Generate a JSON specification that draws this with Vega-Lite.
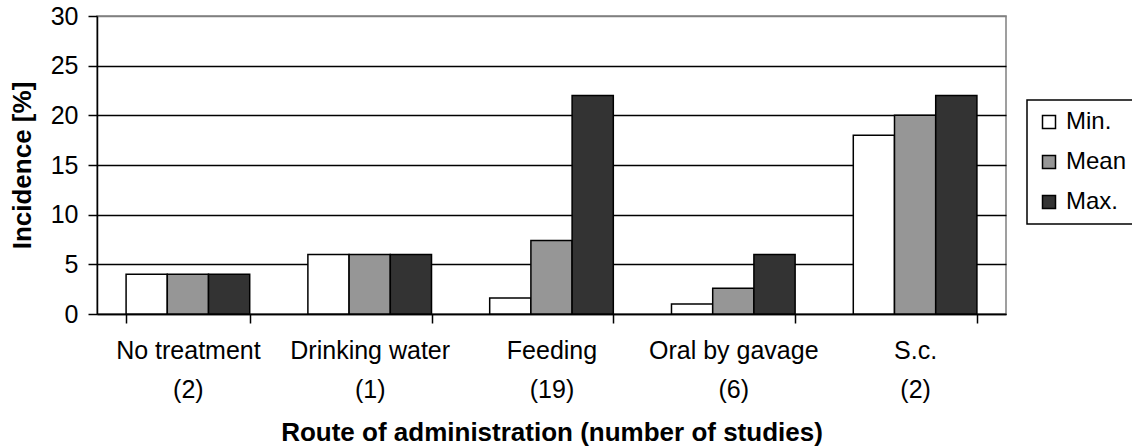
{
  "$schema": "https://vega.github.io/schema/vega-lite/v6.json",
  "width": 909,
  "height": 298,
  "autosize": {"type": "none"},
  "padding": {"left": 97, "top": 16, "right": 126, "bottom": 134},
  "background": "white",
  "config": {
    "view": {"stroke": "#808080", "strokeWidth": 1.5},
    "font": "Liberation Sans"
  },
  "data": {
    "values": [
      {"route": "No treatment|(2)", "stat": "Min.", "value": 4},
      {"route": "No treatment|(2)", "stat": "Mean", "value": 4},
      {"route": "No treatment|(2)", "stat": "Max.", "value": 4},
      {"route": "Drinking water|(1)", "stat": "Min.", "value": 6},
      {"route": "Drinking water|(1)", "stat": "Mean", "value": 6},
      {"route": "Drinking water|(1)", "stat": "Max.", "value": 6},
      {"route": "Feeding|(19)", "stat": "Min.", "value": 1.6},
      {"route": "Feeding|(19)", "stat": "Mean", "value": 7.4},
      {"route": "Feeding|(19)", "stat": "Max.", "value": 22},
      {"route": "Oral by gavage|(6)", "stat": "Min.", "value": 1},
      {"route": "Oral by gavage|(6)", "stat": "Mean", "value": 2.6},
      {"route": "Oral by gavage|(6)", "stat": "Max.", "value": 6},
      {"route": "S.c.|(2)", "stat": "Min.", "value": 18},
      {"route": "S.c.|(2)", "stat": "Mean", "value": 20},
      {"route": "S.c.|(2)", "stat": "Max.", "value": 22}
    ]
  },
  "mark": {"type": "bar", "stroke": "black", "strokeWidth": 1.5},
  "encoding": {
    "x": {
      "field": "route",
      "type": "nominal",
      "sort": null,
      "scale": {"paddingInner": 0.32, "paddingOuter": 0.16},
      "axis": {
        "title": "Route of administration (number of studies)",
        "titleFont": "Liberation Sans",
        "titleFontSize": 26,
        "titleFontWeight": "bold",
        "titleColor": "black",
        "titlePadding": 17,
        "labelExpr": "split(datum.label, '|')",
        "labelAngle": 0,
        "labelFont": "Liberation Sans",
        "labelFontSize": 25,
        "labelColor": "black",
        "labelLineHeight": 39,
        "labelPadding": 15,
        "tickBand": "extent",
        "tickSize": 9,
        "tickColor": "black",
        "tickWidth": 1.5,
        "domainColor": "black",
        "domainWidth": 1.5
      }
    },
    "xOffset": {"field": "stat", "type": "nominal", "sort": ["Min.", "Mean", "Max."], "scale": {"paddingInner": 0, "paddingOuter": 0}},
    "y": {
      "field": "value",
      "type": "quantitative",
      "scale": {"domain": [0, 30], "nice": false},
      "axis": {
        "title": "Incidence [%]",
        "titleFont": "Liberation Sans",
        "titleFontSize": 26,
        "titleFontWeight": "bold",
        "titleColor": "black",
        "titlePadding": 15,
        "values": [0, 5, 10, 15, 20, 25, 30],
        "labelFont": "Liberation Sans",
        "labelFontSize": 25,
        "labelColor": "black",
        "labelPadding": 10,
        "tickSize": 9,
        "tickColor": "black",
        "tickWidth": 1.5,
        "domainColor": "black",
        "domainWidth": 1.5,
        "grid": true,
        "gridColor": {"condition": {"test": "datum.value == 30", "value": "#808080"}, "value": "black"},
        "gridWidth": 1.5,
        "gridOpacity": 1
      }
    },
    "fill": {
      "field": "stat",
      "type": "nominal",
      "sort": ["Min.", "Mean", "Max."],
      "scale": {"domain": ["Min.", "Mean", "Max."], "range": ["#ffffff", "#969696", "#333333"]},
      "legend": {
        "title": null,
        "orient": "none",
        "legendX": 930,
        "legendY": 84,
        "strokeColor": "black",
        "padding": 10,
        "symbolType": "square",
        "symbolSize": 169,
        "symbolStrokeColor": "black",
        "symbolStrokeWidth": 1.5,
        "symbolOpacity": 1,
        "labelFont": "Liberation Sans",
        "labelFontSize": 24,
        "labelColor": "black",
        "labelOffset": 5,
        "rowPadding": 16,
        "fillColor": "white",
        "encode": {"legend": {"update": {"strokeWidth": {"value": 1.5}}}}
      }
    }
  }
}
